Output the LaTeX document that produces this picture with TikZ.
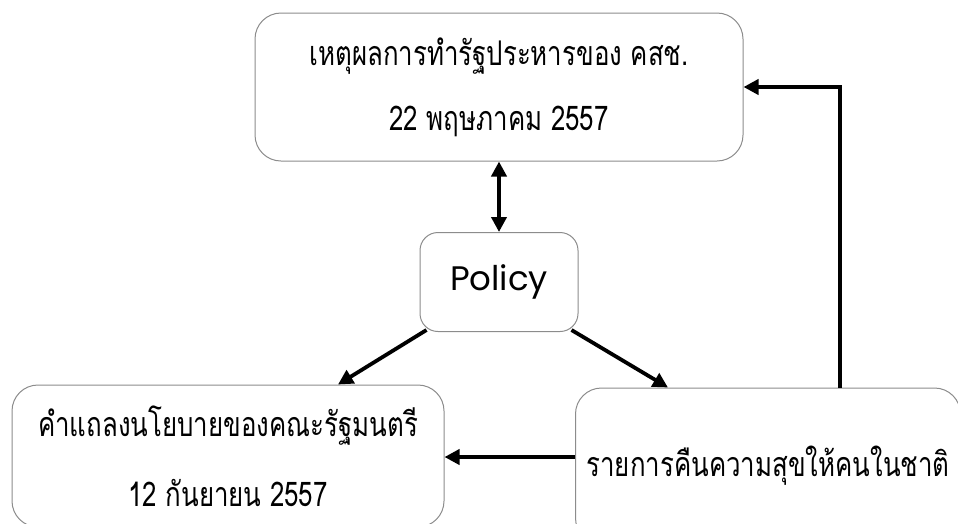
\documentclass[tikz,border=0pt]{standalone}
\usepackage{fontspec}
\newfontfamily\thaifont[Script=Thai,FakeStretch=0.76]{Loma}
\newfontfamily\latinfont{Poppins}
\usetikzlibrary{arrows.meta,positioning,calc}
\tikzset{>={Triangle[width=15pt,length=15pt]}}
\tikzset{block/.style = {draw=gray!90, line width=1pt, fill=white, rectangle,
                  rounded corners=26pt, align=center, font=\thaifont\fontsize{34}{34}\selectfont},
        link/.style = {->, line width=3.8pt},
        corner/.style = {coordinate}
    }

\begin{document}
\begin{tikzpicture}[x=1pt,y=-1pt]
          \useasboundingbox (0,0) rectangle (958,523);
          \clip (0,0) rectangle (958,523);

          % boxes
          \node[block, minimum width=488pt, minimum height=148pt] (coup) at (499,87)
            {เหตุผลการทำรัฐประหารของ คสช.\\[31pt] 22 พฤษภาคม 2557};
          \node[block, minimum width=158pt, minimum height=99pt, rounded corners=18pt,
            font=\latinfont\fontsize{34}{34}\selectfont] (policy) at (499,282) {Policy};
          \node[block, minimum width=432pt, minimum height=142pt] (cabinet) at (228,456)
            {คำแถลงนโยบายของคณะรัฐมนตรี\\[33pt] 12 กันยายน 2557};
          \node[block, minimum width=385pt, minimum height=156pt] (happy) at (768,466)
            {รายการคืนความสุขให้คนในชาติ};

          % connectors
          \coordinate[corner] (pl) at ($(policy.south west)+(7,-2)$);
          \coordinate[corner] (pr) at ($(policy.south east)+(-7,-2)$);
          \coordinate[corner] (bend) at (840,87);
          \draw[link, <->] (coup) -- (policy);
          \draw[link] (pl) -- (cabinet.north -| 338,0);
          \draw[link] (pr) -- (happy.north -| 668,0);
          \draw[link] (happy.west |- 0,457) -- (cabinet.east |- 0,457);
          \draw[link] (happy.north -| bend) -- (bend) -- (coup.east);
        \end{tikzpicture}
\end{document}
